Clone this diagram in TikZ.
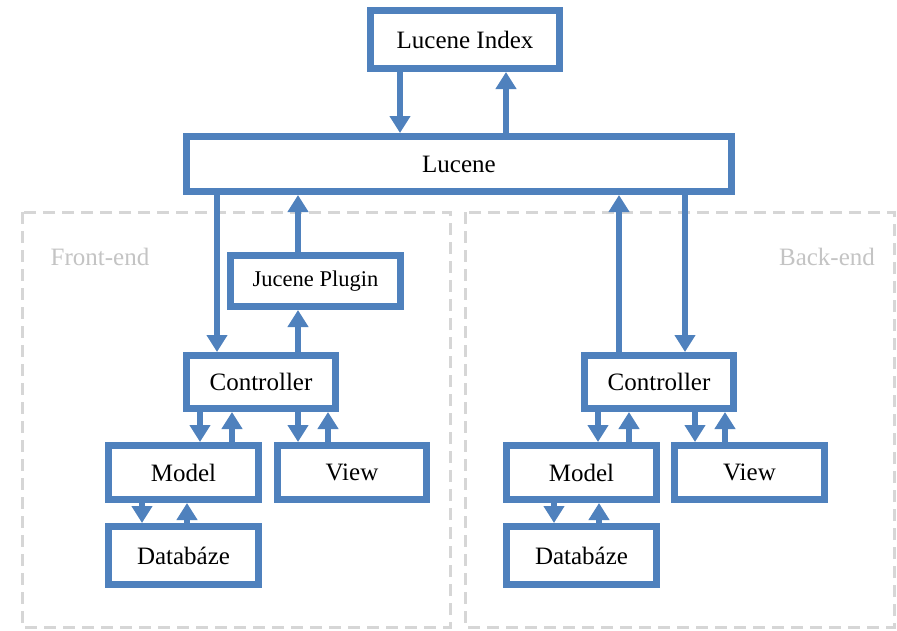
\documentclass[tikz,border=0pt]{standalone}
\usepackage{fontspec}
\setmainfont{Liberation Serif}
\usetikzlibrary{arrows.meta}
\definecolor{boxblue}{HTML}{4F81BD}
\definecolor{dashgray}{HTML}{D6D6D6}
\definecolor{labelgray}{HTML}{C4C4C4}
\begin{document}
\begin{tikzpicture}[x=1pt,y=-1pt,
  box/.style={draw=boxblue,line width=7pt,fill=white,inner sep=0pt,
    font=\fontsize{25}{30}\selectfont,text=black},
  arr/.style={draw=boxblue,line width=6pt,-{Triangle[width=20pt,length=17pt]}},
  region/.style={draw=dashgray,line width=3pt,dash pattern=on 12pt off 7pt},
  regionlabel/.style={text=labelgray,font=\fontsize{25}{30}\selectfont,inner sep=0pt}]
\useasboundingbox[fill=white] (0,0) rectangle (897,630);
% regions
\draw[region] (22,212) rectangle (450,627);
\draw[region] (465,212) rectangle (894,627);
\node[regionlabel] (fe) at (100,257) {Front-end};
\node[regionlabel] (be) at (827,257) {Back-end};
% nodes
\node[box,minimum width=189pt,minimum height=58pt] (LI) at (465,39.5) {Lucene Index};
\node[box,minimum width=545pt,minimum height=55pt] (L) at (459,164) {Lucene};
\node[box,minimum width=170pt,minimum height=51pt,font=\fontsize{22.5}{27}\selectfont] (JP) at (315.5,281) {Jucene Plugin};
\node[box,minimum width=149pt,minimum height=53pt] (CL) at (261,382) {Controller};
\node[box,minimum width=150pt,minimum height=54pt] (ML) at (183.5,472.5) {Model};
\node[box,minimum width=149pt,minimum height=54pt] (VL) at (352,472.5) {View};
\node[box,minimum width=150pt,minimum height=58pt] (DL) at (183.5,555.5) {Databáze};
\node[box,minimum width=149pt,minimum height=53pt] (CR) at (659,382) {Controller};
\node[box,minimum width=150pt,minimum height=54pt] (MR) at (581.5,472.5) {Model};
\node[box,minimum width=150pt,minimum height=54pt] (VR) at (749.5,472.5) {View};
\node[box,minimum width=150pt,minimum height=58pt] (DR) at (581.5,555.5) {Databáze};
% x positions
\coordinate (a1) at (400,0);
\coordinate (a2) at (506,0);
\coordinate (b1) at (217,0);
\coordinate (b2) at (298,0);
\coordinate (c1) at (200,0);
\coordinate (c2) at (232,0);
\coordinate (c3) at (298,0);
\coordinate (c4) at (328,0);
\coordinate (d1) at (142,0);
\coordinate (d2) at (187,0);
\coordinate (e1) at (619,0);
\coordinate (e2) at (685,0);
\coordinate (f1) at (598,0);
\coordinate (f2) at (629,0);
\coordinate (f3) at (695,0);
\coordinate (f4) at (725,0);
\coordinate (g1) at (554,0);
\coordinate (g2) at (599,0);
% connectors
\draw[arr] (LI.south -| a1) -- (L.north -| a1);
\draw[arr] (L.north -| a2) -- (LI.south -| a2);
\draw[arr] (L.south -| b1) -- (CL.north -| b1);
\draw[arr] (JP.north -| b2) -- (L.south -| b2);
\draw[arr] (CL.north -| b2) -- (JP.south -| b2);
\draw[arr] (CL.south -| c1) -- (ML.north -| c1);
\draw[arr] (ML.north -| c2) -- (CL.south -| c2);
\draw[arr] (CL.south -| c3) -- (VL.north -| c3);
\draw[arr] (VL.north -| c4) -- (CL.south -| c4);
\draw[arr] (ML.south -| d1) -- (DL.north -| d1);
\draw[arr] (DL.north -| d2) -- (ML.south -| d2);
\draw[arr] (CR.north -| e1) -- (L.south -| e1);
\draw[arr] (L.south -| e2) -- (CR.north -| e2);
\draw[arr] (CR.south -| f1) -- (MR.north -| f1);
\draw[arr] (MR.north -| f2) -- (CR.south -| f2);
\draw[arr] (CR.south -| f3) -- (VR.north -| f3);
\draw[arr] (VR.north -| f4) -- (CR.south -| f4);
\draw[arr] (MR.south -| g1) -- (DR.north -| g1);
\draw[arr] (DR.north -| g2) -- (MR.south -| g2);
\end{tikzpicture}
\end{document}
